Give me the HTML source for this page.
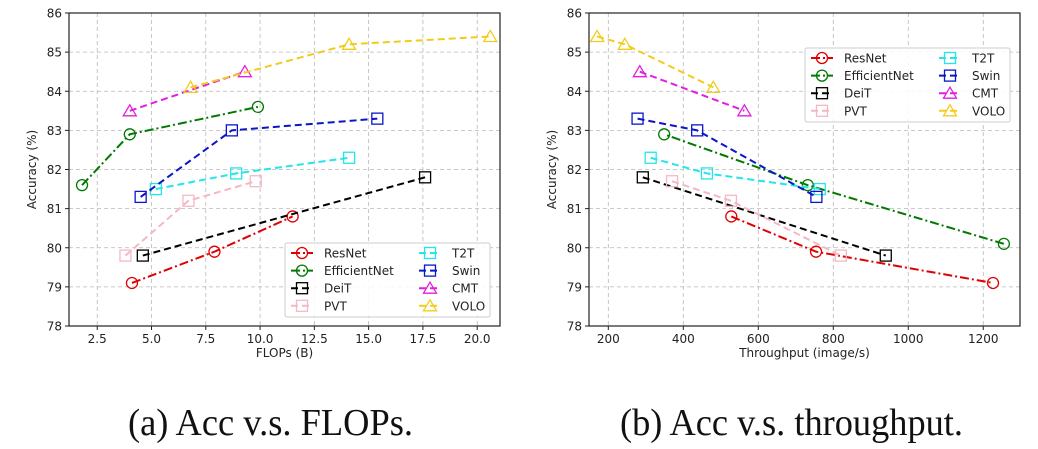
<!DOCTYPE html>
<html><head><meta charset="utf-8">
<style>
html,body{margin:0;padding:0;background:#fff;}
svg{display:block;font-family:"DejaVu Sans","Liberation Sans",sans-serif;}
</style></head>
<body>
<svg id="chart" width="1038" height="449" viewBox="0 0 1038 449"></svg>
<script>
const seriesNames = ["ResNet","EfficientNet","DeiT","PVT","T2T","Swin","CMT","VOLO"];
const seriesColors = ["#e00000","#007a00","#000000","#f4b8c4","#22e6ec","#0b16c8","#e21ee0","#f2cc1a"];
const seriesMarkers = ["circle","circle","square","square","square","square","triangle","triangle"];
const seriesDash = ["9,3,2,3","9,3,2,3","7,4","7,4","7,4","7,4","7,4","7,4"];
const flopsX = [[4.1,7.9,11.5],[1.8,4.0,9.9],[4.6,17.6],[3.8,6.7,9.8],[5.2,8.9,14.1],[4.5,8.7,15.4],[4.0,9.3],[6.8,14.1,20.6]];
const flopsY = [[79.1,79.9,80.8],[81.6,82.9,83.6],[79.8,81.8],[79.8,81.2,81.7],[81.5,81.9,82.3],[81.3,83.0,83.3],[83.5,84.5],[84.1,85.2,85.4]];
const thrX = [[528,754,1226],[1255,732,349],[292,940],[370,527,820],[313,463,764],[278,437,755],[284,563],[170,244,480]];
const thrY = [[80.8,79.9,79.1],[80.1,81.6,82.9],[81.8,79.8],[81.7,81.2,79.8],[82.3,81.9,81.5],[83.3,83.0,81.3],[84.5,83.5],[85.4,85.2,84.1]];
const yTicks = [78,79,80,81,82,83,84,85,86];
const flopsTicks = ["2.5","5.0","7.5","10.0","12.5","15.0","17.5","20.0"];
const thrTicks = ["200","400","600","800","1000","1200"];

const NS="http://www.w3.org/2000/svg";
const svg=document.getElementById('chart');
function mk(tag,attrs,parent){const e=document.createElementNS(NS,tag);for(const k in attrs)e.setAttribute(k,attrs[k]);(parent||svg).appendChild(e);return e;}

function drawPanel(cfg){
  const g=mk('g',{});
  
  
  const sx=v=>cfg.x0+(v-cfg.xmin)/(cfg.xmax-cfg.xmin)*(cfg.x1-cfg.x0);
  const sy=v=>cfg.y1-(v-78)/(86-78)*(cfg.y1-cfg.y0);
  cfg.ticks.forEach(t=>{
    const x=sx(parseFloat(t));
    const l=mk('line',{x1:x,x2:x,y1:cfg.y0,y2:cfg.y1,stroke:"#b8b8b8","stroke-width":0.8,"stroke-dasharray":"4,3"},g);
    
    
    mk('line',{x1:x,x2:x,y1:cfg.y1,y2:cfg.y1+4,stroke:"#222","stroke-width":1},g);
    const tx=mk('text',{x:x,y:cfg.y1+17,"font-size":12,"text-anchor":"middle",fill:"#222"},g);
    tx.textContent=t;
    
    
  });
  yTicks.forEach(t=>{
    const y=sy(t);
    const l=mk('line',{x1:cfg.x0,x2:cfg.x1,y1:y,y2:y,stroke:"#b8b8b8","stroke-width":0.8,"stroke-dasharray":"4,3"},g);
    
    
    mk('line',{x1:cfg.x0-4,x2:cfg.x0,y1:y,y2:y,stroke:"#222","stroke-width":1},g);
    const tx=mk('text',{x:cfg.x0-7,y:y+4.5,"font-size":12,"text-anchor":"end",fill:"#222"},g);
    tx.textContent=t;
    
    
  });
  const fr=mk('rect',{x:cfg.x0,y:cfg.y0,width:cfg.x1-cfg.x0,height:cfg.y1-cfg.y0,fill:"none",stroke:"#222","stroke-width":1.2},g);
  
  
  const xt=mk('text',{x:(cfg.x0+cfg.x1)/2,y:cfg.y1+31,"font-size":12,"text-anchor":"middle",fill:"#222"},g);
  xt.textContent=cfg.xlabel;
  
  
  const yt=mk('text',{x:0,y:0,"font-size":12,"text-anchor":"middle",fill:"#222",transform:`translate(${cfg.x0-33},${(cfg.y0+cfg.y1)/2}) rotate(-90)`},g);
  yt.textContent="Accuracy (%)";
  
  
  seriesNames.forEach((n,i)=>{
    const xs=cfg.xs[i], ys=cfg.ys[i];
    const pts=xs.map((v,j)=>sx(v)+","+sy(ys[j])).join(" ");
    const pl=mk('polyline',{points:pts,fill:"none",stroke:seriesColors[i],"stroke-width":2,"stroke-dasharray":seriesDash[i]},g);
    
    
    xs.forEach((v,j)=>{
      const m=marker(g,seriesMarkers[i],sx(v),sy(ys[j]),seriesColors[i]);
      
      
    });
  });
  const L=cfg.legend;
  const lg=mk('g',{},g);
  
  
  mk('rect',{x:L.x,y:L.y,width:205,height:74,fill:"#fff","fill-opacity":0.85,stroke:"#ccc","stroke-width":1,rx:2},lg);
  seriesNames.forEach((n,i)=>{
    const col=Math.floor(i/4), row=i%4;
    const lx=L.x+6+col*128, ly=L.y+10+row*17.6;
    const e=mk('g',{},lg);
    
    
    mk('line',{x1:lx,x2:lx+22,y1:ly,y2:ly,stroke:seriesColors[i],"stroke-width":2,"stroke-dasharray":seriesDash[i]},e);
    marker(e,seriesMarkers[i],lx+11,ly,seriesColors[i]);
    const t=mk('text',{x:lx+33,y:ly+4.5,"font-size":12,fill:"#222"},e);
    t.textContent=n;
  });
}
function marker(g,type,x,y,c){
  if(type==="circle") return mk('circle',{cx:x,cy:y,r:5.5,fill:"none",stroke:c,"stroke-width":1.3},g);
  if(type==="square") return mk('rect',{x:x-5.5,y:y-5.5,width:11,height:11,fill:"none",stroke:c,"stroke-width":1.3},g);
  return mk('polygon',{points:`${x},${y-6} ${x+6.5},${y+5} ${x-6.5},${y+5}`,fill:"none",stroke:c,"stroke-width":1.3},g);
}
drawPanel({name:"flops-chart",x0:69,x1:500,y0:13,y1:326,xmin:1.2,xmax:21.05,ticks:flopsTicks,xlabel:"FLOPs (B)",xs:flopsX,ys:flopsY,legend:{x:285,y:243}});
drawPanel({name:"throughput-chart",x0:589,x1:1020,y0:13,y1:326,xmin:148.5,xmax:1298,ticks:thrTicks,xlabel:"Throughput (image/s)",xs:thrX,ys:thrY,legend:{x:805,y:48}});
const c1=mk('text',{x:128,y:435,"font-size":38,"font-family":"Liberation Serif, serif",textLength:285,lengthAdjust:"spacingAndGlyphs",fill:"#111"});
c1.textContent="(a) Acc v.s. FLOPs.";


const c2=mk('text',{x:620,y:435,"font-size":38,"font-family":"Liberation Serif, serif",textLength:343,lengthAdjust:"spacingAndGlyphs",fill:"#111"});
c2.textContent="(b) Acc v.s. throughput.";


</script>
</body></html>
